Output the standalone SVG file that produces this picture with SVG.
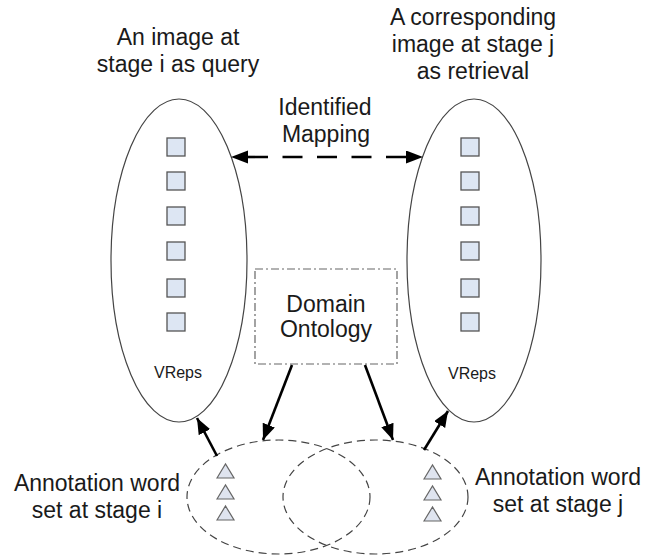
<svg xmlns="http://www.w3.org/2000/svg" width="658" height="557" viewBox="0 0 658 557">
<style>
  text { font-family: "Liberation Sans", Arial, sans-serif; fill: #1a1a1a; text-anchor: middle; }
  .big { font-size: 23px; }
  .small { font-size: 16px; }
  .img { fill: none; stroke: #444; stroke-width: 1.2; }
  .ann { fill: none; stroke: #444; stroke-width: 1.2; stroke-dasharray: 8 5; }
  .sq { fill: #dde6f3; stroke: #555; stroke-width: 1.3; }
  .tri { fill: #dfe4ef; stroke: #666; stroke-width: 1.2; }
  .onto { fill: #fff; stroke: #666; stroke-width: 1.2; stroke-dasharray: 8 3 2 3; }
  .arr { stroke: #000; stroke-width: 2.6; fill: none; }
</style>
<defs>
  <marker id="ah" markerUnits="userSpaceOnUse" markerWidth="20" markerHeight="16" refX="16" refY="6.5" orient="auto">
    <path d="M0,0 L16,6.5 L0,13 z" fill="#000"/>
  </marker>
  <marker id="ahb" markerUnits="userSpaceOnUse" markerWidth="20" markerHeight="16" refX="0" refY="6.5" orient="auto-start-reverse">
    <path d="M0,0 L17,6.5 L0,13 z" fill="#000"/>
  </marker>
  <rect id="s" width="18" height="18"/>
  <path id="t" d="M0,14 L8.5,0 L17,14 z"/>
</defs>
<rect width="658" height="557" fill="#fff"/>

<g id="image-i">
  <ellipse class="img" cx="179" cy="260.5" rx="68" ry="161.5"/>
  <g class="sq">
    <use href="#s" x="167" y="138"/>
    <use href="#s" x="167" y="172"/>
    <use href="#s" x="167" y="207"/>
    <use href="#s" x="167" y="242"/>
    <use href="#s" x="167" y="279"/>
    <use href="#s" x="167" y="313"/>
  </g>
  <text class="small" x="178" y="378">VReps</text>
</g>

<g id="image-j">
  <ellipse class="img" cx="474" cy="260.5" rx="67" ry="161.5"/>
  <g class="sq">
    <use href="#s" x="461" y="138"/>
    <use href="#s" x="461" y="172"/>
    <use href="#s" x="461" y="207"/>
    <use href="#s" x="461" y="242"/>
    <use href="#s" x="461" y="279"/>
    <use href="#s" x="461" y="313"/>
  </g>
  <text class="small" x="472" y="379">VReps</text>
</g>

<g id="label-i">
  <text class="big" x="178" y="45">An image at</text>
  <text class="big" x="178" y="72">stage i as query</text>
</g>

<g id="label-j">
  <text class="big" x="473" y="25">A corresponding</text>
  <text class="big" x="473" y="52">image at stage j</text>
  <text class="big" x="473" y="79">as retrieval</text>
</g>

<g id="mapping-label">
  <text class="big" x="325" y="115">Identified</text>
  <text class="big" x="326" y="142">Mapping</text>
</g>

<g id="domain-ontology">
  <rect class="onto" x="255" y="269" width="142" height="95"/>
  <text class="big" x="326" y="312">Domain</text>
  <text class="big" x="326" y="337">Ontology</text>
</g>

<g id="annotation-i">
  <ellipse class="ann" cx="278.5" cy="497" rx="91.5" ry="57"/>
  <g class="tri">
    <use href="#t" x="217" y="464"/>
    <use href="#t" x="217" y="485"/>
    <use href="#t" x="217" y="506"/>
  </g>
  <text class="big" x="97" y="491">Annotation word</text>
  <text class="big" x="97" y="518">set at stage i</text>
</g>

<g id="annotation-j">
  <ellipse class="ann" cx="375.5" cy="497" rx="92.5" ry="57"/>
  <g class="tri">
    <use href="#t" x="424" y="465"/>
    <use href="#t" x="424" y="486"/>
    <use href="#t" x="424" y="507"/>
  </g>
  <text class="big" x="558" y="485">Annotation word</text>
  <text class="big" x="558" y="512">set at stage j</text>
</g>

<g id="connectors">
  <path class="arr" d="M248,157 L406,157" stroke-dasharray="20 14.5" marker-start="url(#ahb)" marker-end="url(#ahb)"/>
  <line class="arr" x1="217" y1="456" x2="197" y2="418" marker-end="url(#ah)"/>
  <line class="arr" x1="292" y1="365" x2="263" y2="440" marker-end="url(#ah)"/>
  <line class="arr" x1="365" y1="365" x2="393" y2="440" marker-end="url(#ah)"/>
  <line class="arr" x1="424" y1="450" x2="448" y2="411" marker-end="url(#ah)"/>
</g>
</svg>
